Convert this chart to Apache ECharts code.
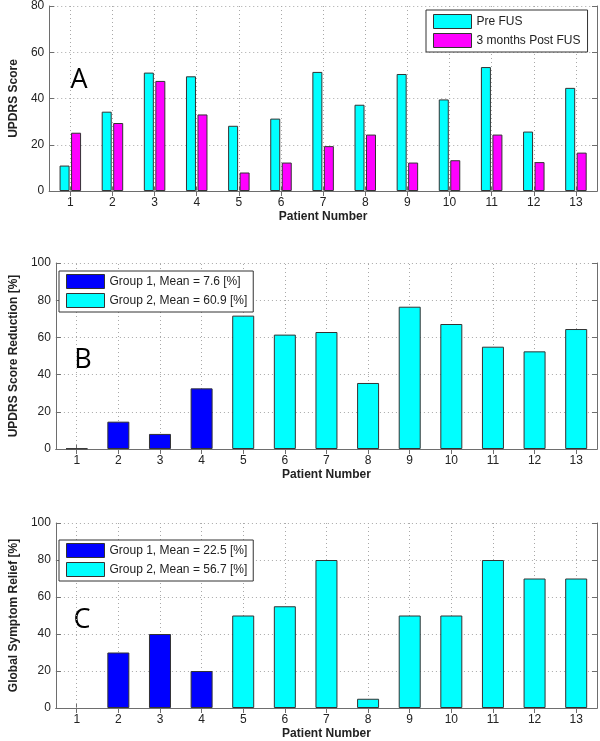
<!DOCTYPE html>
<html><head><meta charset="utf-8">
<script src="https://cdn.jsdelivr.net/npm/echarts@6/dist/echarts.min.js"></script>
<style>html,body{margin:0;padding:0;background:#fff}#c{width:600px;height:741px}</style>
</head><body><div id="c"></div>
<script>
// ---- data ----
const patients = ['1','2','3','4','5','6','7','8','9','10','11','12','13'];
const preFUS   = [11, 34.3, 51.2, 49.6, 28.2, 31.3, 51.5, 37.3, 50.6, 39.6, 53.6, 25.7, 44.6];
const postFUS  = [25.2, 29.4, 47.6, 33.1, 8, 12.3, 19.4, 24.4, 12.3, 13.3, 24.4, 12.5, 16.6];
const reduction = [0.3, 14.7, 8.1, 32.6, 71.7, 61.5, 62.9, 35.5, 76.5, 67.2, 55, 52.5, 64.5];
const relief    = [0, 30, 40, 20, 50, 55, 80, 5, 50, 50, 80, 70, 70];
const group1Count = 4;
const seriesNamesA = ['Pre FUS', '3 months Post FUS'];
const seriesNamesB = ['Group 1, Mean = 7.6 [%]', 'Group 2, Mean = 60.9 [%]'];
const seriesNamesC = ['Group 1, Mean = 22.5 [%]', 'Group 2, Mean = 56.7 [%]'];
const yTitles = ['UPDRS Score', 'UPDRS Score Reduction [%]', 'Global Symptom Relief [%]'];
const xTitle = 'Patient Number';
const yMaxes = [80, 100, 100];
const yInterval = 20;
const panelLetters = ['A', 'B', 'C'];

// ---- style ----
const FONT = 'Liberation Sans, Arial, sans-serif';
const CYAN = '#00FFFF', MAGENTA = '#FF00FF', BLUE = '#0000FF';
const AX = '#6e6e6e';
const TXT = '#222';
const grids = [
  {left: 43, right: 3, top: 5, height: 186},
  {left: 43, right: 3, top: 263, height: 186},
  {left: 43, right: 3, top: 523, height: 186}
];
const dotStyle = {color: '#a8a8a8', type: [1, 3], width: 1};

const xAxes = [], yAxes = [];
grids.forEach((g, i) => {
  xAxes.push({
    type: 'category', gridIndex: i, data: patients, position: 'bottom',
    name: xTitle, nameLocation: 'middle', nameGap: 20,
    nameTextStyle: {fontFamily: FONT, fontWeight: 'bold', fontSize: 12, color: TXT},
    axisLine: {show: true, lineStyle: {color: AX}},
    axisTick: {show: true, inside: true, alignWithLabel: true, length: 5, lineStyle: {color: AX}},
    axisLabel: {fontFamily: FONT, fontSize: 12, color: TXT, margin: 6},
    splitLine: {show: false}
  });
  xAxes.push({
    type: 'category', gridIndex: i, data: patients, position: 'top',
    axisLine: {show: true, lineStyle: {color: AX}},
    axisTick: {show: true, inside: true, alignWithLabel: true, length: 5, lineStyle: {color: AX}},
    axisLabel: {show: false}, splitLine: {show: false}
  });
  yAxes.push({
    type: 'value', gridIndex: i, min: 0, max: yMaxes[i], interval: yInterval, position: 'left',
    name: yTitles[i], nameLocation: 'middle', nameGap: 26, nameRotate: 90,
    nameTextStyle: {fontFamily: FONT, fontWeight: 'bold', fontSize: 12, color: TXT},
    axisLine: {show: true, lineStyle: {color: AX}},
    axisTick: {show: true, inside: true, length: 5, lineStyle: {color: AX}},
    axisLabel: {fontFamily: FONT, fontSize: 12, color: TXT, margin: 5},
    splitLine: {show: true, lineStyle: dotStyle}
  });
  yAxes.push({
    type: 'value', gridIndex: i, min: 0, max: yMaxes[i], interval: yInterval, position: 'right',
    axisLine: {show: true, lineStyle: {color: AX}},
    axisTick: {show: true, inside: true, length: 5, lineStyle: {color: AX}},
    axisLabel: {show: false}, splitLine: {show: false}
  });
});

const border = {borderColor: '#333', borderWidth: 1};
function groupSeries(values, names, gi) {
  const mk = (inGroup) => values.map((v, k) => {
    if (inGroup(k)) {
      return v === 0 ? {value: v, itemStyle: {borderWidth: 0, opacity: 0}} : v;
    }
    return '-';
  });
  return [
    {type: 'bar', name: names[0], xAxisIndex: gi * 2, yAxisIndex: gi * 2, barWidth: 22, barGap: '-100%', z: 3,
     itemStyle: Object.assign({color: BLUE}, border), data: mk(k => k < group1Count)},
    {type: 'bar', name: names[1], xAxisIndex: gi * 2, yAxisIndex: gi * 2, barWidth: 22, barGap: '-100%', z: 3,
     itemStyle: Object.assign({color: CYAN}, border), data: mk(k => k >= group1Count)}
  ];
}

// vertical dotted grid lines at each patient position
function vGrid(gi) {
  return {
    type: 'line', xAxisIndex: gi * 2, yAxisIndex: gi * 2, data: [], z: 1, silent: true,
    markLine: {
      silent: true, symbol: 'none', animation: false, z: 1,
      label: {show: false}, lineStyle: dotStyle,
      data: patients.map(p => ({xAxis: p}))
    }
  };
}

const series = [
  vGrid(0), vGrid(1), vGrid(2),
  {type: 'bar', name: seriesNamesA[0], xAxisIndex: 0, yAxisIndex: 0, barWidth: 10, barGap: '15%', z: 3,
   itemStyle: Object.assign({color: CYAN}, border), data: preFUS},
  {type: 'bar', name: seriesNamesA[1], xAxisIndex: 0, yAxisIndex: 0, barWidth: 10, barGap: '15%', z: 3,
   itemStyle: Object.assign({color: MAGENTA}, border), data: postFUS}
].concat(groupSeries(reduction, seriesNamesB, 1), groupSeries(relief, seriesNamesC, 2));

const legendBase = {
  orient: 'vertical', itemWidth: 38, itemHeight: 14, itemGap: 4,
  icon: 'rect', borderColor: '#333', borderWidth: 1, backgroundColor: '#fff',
  textStyle: {fontFamily: FONT, fontSize: 12, color: TXT},
  itemStyle: {borderColor: '#333', borderWidth: 1}
};
const legends = [
  Object.assign({}, legendBase, {left: 426, top: 10, padding: [4, 7, 4, 7], data: seriesNamesA}),
  Object.assign({}, legendBase, {left: 59, top: 271, padding: [3, 6, 4, 7], data: seriesNamesB}),
  Object.assign({}, legendBase, {left: 59, top: 540, padding: [3, 6, 4, 7], data: seriesNamesC})
];

const letterPos = [[79, 80], [83, 360], [82, 620]];
const graphic = panelLetters.map((t, i) => ({
  type: 'text', x: letterPos[i][0], y: letterPos[i][1],
  style: {text: t, fontFamily: 'Open Sans, Liberation Sans, sans-serif', fontSize: 27, fill: '#000',
          align: 'center', verticalAlign: 'middle'}
}));

const chart = echarts.init(document.getElementById('c'), null, {renderer: 'canvas'});
chart.setOption({
  animation: false,
  backgroundColor: '#fff',
  grid: grids,
  xAxis: xAxes,
  yAxis: yAxes,
  legend: legends,
  series: series,
  graphic: graphic
});
</script></body></html>
